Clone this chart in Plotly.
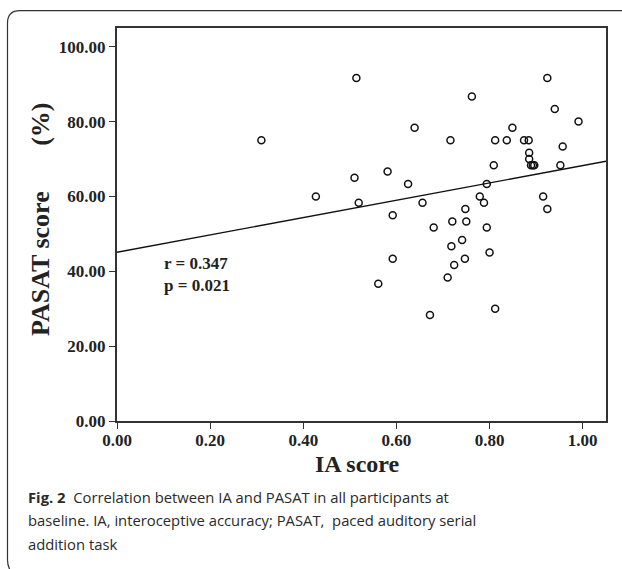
import plotly.graph_objects as go

# ---- data ----
ia_score = [0.310, 0.427, 0.510, 0.514, 0.519, 0.561, 0.581, 0.592, 0.592, 0.625,
            0.639, 0.656, 0.672, 0.680, 0.710, 0.716, 0.718, 0.720, 0.724, 0.741,
            0.747, 0.748, 0.750, 0.762, 0.779, 0.788, 0.794, 0.794, 0.800, 0.809,
            0.812, 0.812, 0.837, 0.849, 0.874, 0.884, 0.885, 0.885, 0.889, 0.893,
            0.896, 0.915, 0.924, 0.924, 0.940, 0.952, 0.957, 0.991]
pasat_score = [75.00, 60.00, 65.00, 91.67, 58.33, 36.67, 66.67, 55.00, 43.33, 63.33,
               78.33, 58.33, 28.33, 51.67, 38.33, 75.00, 46.67, 53.33, 41.67, 48.33,
               43.33, 56.67, 53.33, 86.67, 60.00, 58.33, 63.33, 51.67, 45.00, 68.33,
               75.00, 30.00, 75.00, 78.33, 75.00, 75.00, 71.67, 70.00, 68.33, 68.33,
               68.33, 60.00, 91.67, 56.67, 83.33, 68.33, 73.33, 80.00]
fit_x = [0.0, 1.05]
fit_y = [45.1, 69.4]
x_ticks = [0.0, 0.2, 0.4, 0.6, 0.8, 1.0]
y_ticks = [0, 20, 40, 60, 80, 100]
stats_lines = ["r = 0.347", "p = 0.021"]
caption_lines = ["<b>Fig. 2</b>  Correlation between IA and PASAT in all participants at",
                 "baseline. IA, interoceptive accuracy; PASAT,  paced auditory serial",
                 "addition task"]

W, H = 622, 569
ML, MR, MT, MB = 117, 16, 28, 148
PW, PH = W - ML - MR, H - MT - MB


def px(x):
    return (x - ML) / PW


def py(y):
    return (H - MB - y) / PH


SERIF = "Liberation Serif, Times New Roman, serif"
SANS = "Open Sans, Noto Sans, sans-serif"
INK = "#222222"

fig = go.Figure()
fig.add_trace(go.Scatter(x=fit_x, y=fit_y, mode="lines",
                         line=dict(color="#111111", width=1.4),
                         hoverinfo="skip", showlegend=False))
fig.add_trace(go.Scatter(x=ia_score, y=pasat_score, mode="markers",
                         marker=dict(symbol="circle-open", size=7, color="#111111",
                                     line=dict(color="#111111", width=1.5)),
                         showlegend=False))

axis_common = dict(showline=True, linewidth=2, linecolor="#333333", mirror=True,
                   ticks="outside", ticklen=6, tickwidth=1, tickcolor="#333333",
                   showgrid=False, zeroline=False,
                   tickfont=dict(family=SERIF, size=17, color=INK, weight="bold"))

fig.update_xaxes(range=[0, 1.05], tickvals=x_ticks, ticklabelstandoff=-3,
                 ticktext=[f"{v:.2f}" for v in x_ticks], **axis_common)
fig.update_yaxes(range=[0, 105], tickvals=y_ticks,
                 ticktext=[f"{v:.2f}" for v in y_ticks], **axis_common)

annotations = []
# axis titles
annotations.append(dict(text="<b>IA score</b>", xref="paper", yref="paper",
                        x=px(357), y=py(464), xanchor="center", yanchor="middle",
                        showarrow=False,
                        font=dict(family=SERIF, size=24, color=INK)))
annotations.append(dict(text="<b>PASAT score" + "\u00a0" * 7 + "(%)</b>",
                        xref="paper", yref="paper",
                        x=px(41), y=py(219), xanchor="center", yanchor="middle",
                        showarrow=False, textangle=-90,
                        font=dict(family=SERIF, size=26, color=INK)))
# stats
for i, t in enumerate(stats_lines):
    annotations.append(dict(text=f"<b>{t}</b>", xref="paper", yref="paper",
                            x=px(162), y=py(263 + 22.5 * i), xanchor="left",
                            yanchor="middle", showarrow=False,
                            font=dict(family=SERIF, size=17, color=INK)))
# caption
for i, t in enumerate(caption_lines):
    annotations.append(dict(text=t, xref="paper", yref="paper",
                            x=px(26), y=py(497 + 23.3 * i), xanchor="left",
                            yanchor="middle", showarrow=False,
                            font=dict(family=SANS, size=14.8, color="#2a2a2a")))

# rounded caption box (top + left edge)
box_path = (f"M {px(640)},{py(10.7)} L {px(20)},{py(10.7)} "
            f"Q {px(7.5)},{py(10.7)} {px(7.5)},{py(23)} "
            f"L {px(7.5)},{py(560)} Q {px(7.5)},{py(566)} {px(11)},{py(572)}")

fig.update_layout(
    width=W, height=H,
    margin=dict(l=ML, r=MR, t=MT, b=MB, autoexpand=False),
    paper_bgcolor="white", plot_bgcolor="white",
    annotations=annotations,
    shapes=[dict(type="path", path=box_path, xref="paper", yref="paper",
                 line=dict(color="#333333", width=1.2))],
)

fig.write_html("out.html", config={"displayModeBar": False},
               post_script="document.body.style.margin='0';")
